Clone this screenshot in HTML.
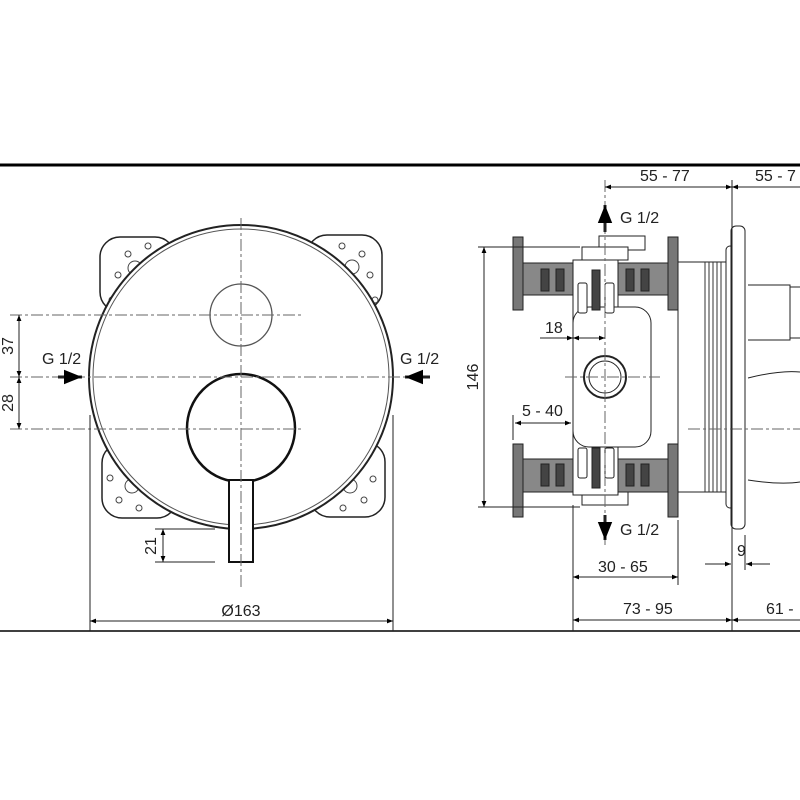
<!DOCTYPE html>
<html><head><style>body{margin:0;background:#fff}svg{display:block}</style></head><body>
<svg width="800" height="800" viewBox="0 0 800 800" xmlns="http://www.w3.org/2000/svg" font-family="Liberation Sans, sans-serif">
<defs>
<marker id="a" viewBox="0 0 10 10" refX="10" refY="5" markerWidth="9" markerHeight="6" orient="auto-start-reverse"><path d="M0,1 L10,5 L0,9 z" fill="#000"/></marker>
</defs>
<rect width="800" height="800" fill="#fff"/>
<line x1="0" y1="165" x2="800" y2="165" stroke="#000" stroke-width="3"/>
<line x1="0" y1="631" x2="800" y2="631" stroke="#000" stroke-width="1.5"/>

<!-- LEFT VIEW -->
<g stroke="#222" fill="#fff" stroke-width="1.5">
<rect x="100" y="237" width="75" height="75" rx="20"/>
<rect x="307" y="235" width="75" height="75" rx="20"/>
<rect x="102" y="443" width="75" height="75" rx="20"/>
<rect x="310" y="442" width="75" height="75" rx="20"/>
</g>
<g stroke="#444" fill="none" stroke-width="1">
<circle cx="118" cy="275" r="3"/><circle cx="128" cy="254" r="3"/><circle cx="148" cy="246" r="3"/><circle cx="112" cy="300" r="3"/><circle cx="135" cy="268" r="7"/>
<circle cx="370" cy="275" r="3"/><circle cx="362" cy="254" r="3"/><circle cx="342" cy="246" r="3"/><circle cx="375" cy="300" r="3"/><circle cx="352" cy="267" r="7"/>
<circle cx="110" cy="478" r="3"/><circle cx="119" cy="500" r="3"/><circle cx="139" cy="508" r="3"/><circle cx="132" cy="486" r="7"/>
<circle cx="373" cy="479" r="3"/><circle cx="364" cy="500" r="3"/><circle cx="343" cy="508" r="3"/><circle cx="350" cy="486" r="7"/>
</g>
<circle cx="241" cy="377" r="152" fill="#fff" stroke="#222" stroke-width="2"/>
<circle cx="241" cy="377" r="148" fill="none" stroke="#555" stroke-width="1"/>
<circle cx="241" cy="315" r="31" fill="none" stroke="#555" stroke-width="1.3"/>
<circle cx="241" cy="428" r="54" fill="none" stroke="#111" stroke-width="2.5"/>
<rect x="229" y="480" width="24" height="82" fill="#fff" stroke="#111" stroke-width="2"/>
<g stroke="#666" stroke-width="1" stroke-dasharray="12,3,3,3" fill="none">
<line x1="241" y1="218" x2="241" y2="590"/>
<line x1="10" y1="315" x2="302" y2="315"/>
<line x1="10" y1="377" x2="410" y2="377"/>
<line x1="10" y1="429" x2="302" y2="429"/>
</g>
<g stroke="#222" stroke-width="1" fill="none">
<line x1="19" y1="315" x2="19" y2="377" marker-start="url(#a)" marker-end="url(#a)"/>
<line x1="19" y1="377" x2="19" y2="429" marker-start="url(#a)" marker-end="url(#a)"/>
<line x1="90" y1="415" x2="90" y2="631"/><line x1="393" y1="415" x2="393" y2="631"/>
<line x1="90" y1="621" x2="393" y2="621" marker-start="url(#a)" marker-end="url(#a)"/>
<line x1="155" y1="529" x2="215" y2="529"/><line x1="155" y1="562" x2="215" y2="562"/>
<line x1="163" y1="529" x2="163" y2="562" marker-start="url(#a)" marker-end="url(#a)"/>
<line x1="58" y1="377" x2="82" y2="377" stroke-width="3" marker-end="url(#a)"/>
<line x1="430" y1="377" x2="405" y2="377" stroke-width="3" marker-end="url(#a)"/>
</g>
<g font-size="16" fill="#222">
<text x="42" y="364">G 1/2</text>
<text x="400" y="364">G 1/2</text>
<text x="241" y="616" text-anchor="middle">Ø163</text>
<text transform="translate(13,346) rotate(-90)" text-anchor="middle">37</text>
<text transform="translate(13,403) rotate(-90)" text-anchor="middle">28</text>
<text transform="translate(156,546) rotate(-90)" text-anchor="middle">21</text>
</g>

<!-- RIGHT VIEW -->
<g stroke="#222" stroke-width="1">
<rect x="522" y="263" width="52" height="32" fill="#888"/>
<rect x="522" y="459" width="52" height="33" fill="#888"/>
<rect x="618" y="263" width="50" height="32" fill="#888"/>
<rect x="618" y="459" width="50" height="33" fill="#888"/>
<g fill="#444">
<rect x="541" y="269" width="8" height="22"/><rect x="556" y="269" width="8" height="22"/>
<rect x="541" y="464" width="8" height="22"/><rect x="556" y="464" width="8" height="22"/>
<rect x="626" y="269" width="8" height="22"/><rect x="641" y="269" width="8" height="22"/>
<rect x="626" y="464" width="8" height="22"/><rect x="641" y="464" width="8" height="22"/>
</g>
<rect x="513" y="237" width="10" height="73" fill="#777"/>
<rect x="513" y="444" width="10" height="73" fill="#777"/>
<rect x="668" y="237" width="10" height="73" fill="#777"/>
<rect x="668" y="444" width="10" height="73" fill="#777"/>
<rect x="678" y="262" width="48" height="230" fill="#fff"/>
<rect x="599" y="236" width="46" height="14" fill="#fff"/>
<rect x="582" y="247" width="46" height="13" fill="#fff"/>
<rect x="582" y="492" width="46" height="13" fill="#fff"/>
<rect x="573" y="260" width="45" height="235" fill="#fff"/>
<rect x="573" y="307" width="78" height="140" rx="16" fill="#fff"/>
<rect x="578" y="283" width="9" height="30" rx="2" fill="#fff"/><rect x="605" y="283" width="9" height="30" rx="2" fill="#fff"/>
<rect x="592" y="270" width="8" height="40" fill="#444"/>
<rect x="578" y="448" width="9" height="30" rx="2" fill="#fff"/><rect x="605" y="448" width="9" height="30" rx="2" fill="#fff"/>
<rect x="592" y="448" width="8" height="40" fill="#444"/>
<circle cx="605" cy="377" r="21" fill="#fff" stroke-width="2"/>
<circle cx="605" cy="377" r="16" fill="#fff"/>
<rect x="726" y="246" width="8" height="262" rx="4" fill="#fff"/>
<rect x="731" y="226" width="14" height="303" rx="5" fill="#fff"/>
<path d="M748 285 H790 V340 H748 M790 287 H800 M790 338 H800 M748 378 Q780 370 800 372 M748 480 Q780 485 800 482" fill="none"/>
</g>
<g stroke="#333" stroke-width="1">
<line x1="705" y1="262" x2="705" y2="492"/><line x1="709" y1="262" x2="709" y2="492"/><line x1="713" y1="262" x2="713" y2="492"/><line x1="717" y1="262" x2="717" y2="492"/><line x1="721" y1="262" x2="721" y2="492"/>
</g>
<g stroke="#666" stroke-width="1" stroke-dasharray="12,3,3,3" fill="none">
<line x1="605" y1="180" x2="605" y2="545"/>
<line x1="565" y1="377" x2="660" y2="377"/>
<line x1="688" y1="429" x2="800" y2="429"/>
</g>
<g stroke="#222" stroke-width="1" fill="none">
<line x1="732" y1="180" x2="732" y2="631"/>
<line x1="573" y1="505" x2="573" y2="631"/>
<line x1="678" y1="520" x2="678" y2="585"/>
<line x1="745" y1="535" x2="745" y2="570"/>
<line x1="605" y1="187" x2="732" y2="187" marker-start="url(#a)" marker-end="url(#a)"/>
<line x1="732" y1="187" x2="800" y2="187" marker-start="url(#a)"/>
<line x1="478" y1="247" x2="580" y2="247"/><line x1="478" y1="507" x2="580" y2="507"/>
<line x1="484" y1="247" x2="484" y2="507" marker-start="url(#a)" marker-end="url(#a)"/>
<line x1="540" y1="338" x2="573" y2="338" marker-end="url(#a)"/>
<line x1="573" y1="338" x2="605" y2="338" marker-start="url(#a)" marker-end="url(#a)"/>
<line x1="513" y1="415" x2="513" y2="440"/>
<line x1="515" y1="423" x2="571" y2="423" marker-start="url(#a)" marker-end="url(#a)"/>
<line x1="705" y1="564" x2="731" y2="564" marker-end="url(#a)"/>
<line x1="770" y1="564" x2="746" y2="564" marker-end="url(#a)"/>
<line x1="573" y1="577" x2="678" y2="577" marker-start="url(#a)" marker-end="url(#a)"/>
<line x1="573" y1="620" x2="732" y2="620" marker-start="url(#a)" marker-end="url(#a)"/>
<line x1="732" y1="620" x2="800" y2="620" marker-start="url(#a)"/>
<line x1="605" y1="232" x2="605" y2="205" stroke-width="3" marker-end="url(#a)"/>
<line x1="605" y1="515" x2="605" y2="540" stroke-width="3" marker-end="url(#a)"/>
</g>
<g font-size="16" fill="#222">
<text x="640" y="181">55 - 77</text>
<text x="755" y="181">55 - 7</text>
<text x="620" y="223">G 1/2</text>
<text x="620" y="535">G 1/2</text>
<text x="545" y="333">18</text>
<text x="522" y="416">5 - 40</text>
<text x="737" y="556">9</text>
<text x="598" y="572">30 - 65</text>
<text x="623" y="614">73 - 95</text>
<text x="766" y="614">61 -</text>
<text transform="translate(478,377) rotate(-90)" text-anchor="middle">146</text>
</g>
</svg>
</body></html>
